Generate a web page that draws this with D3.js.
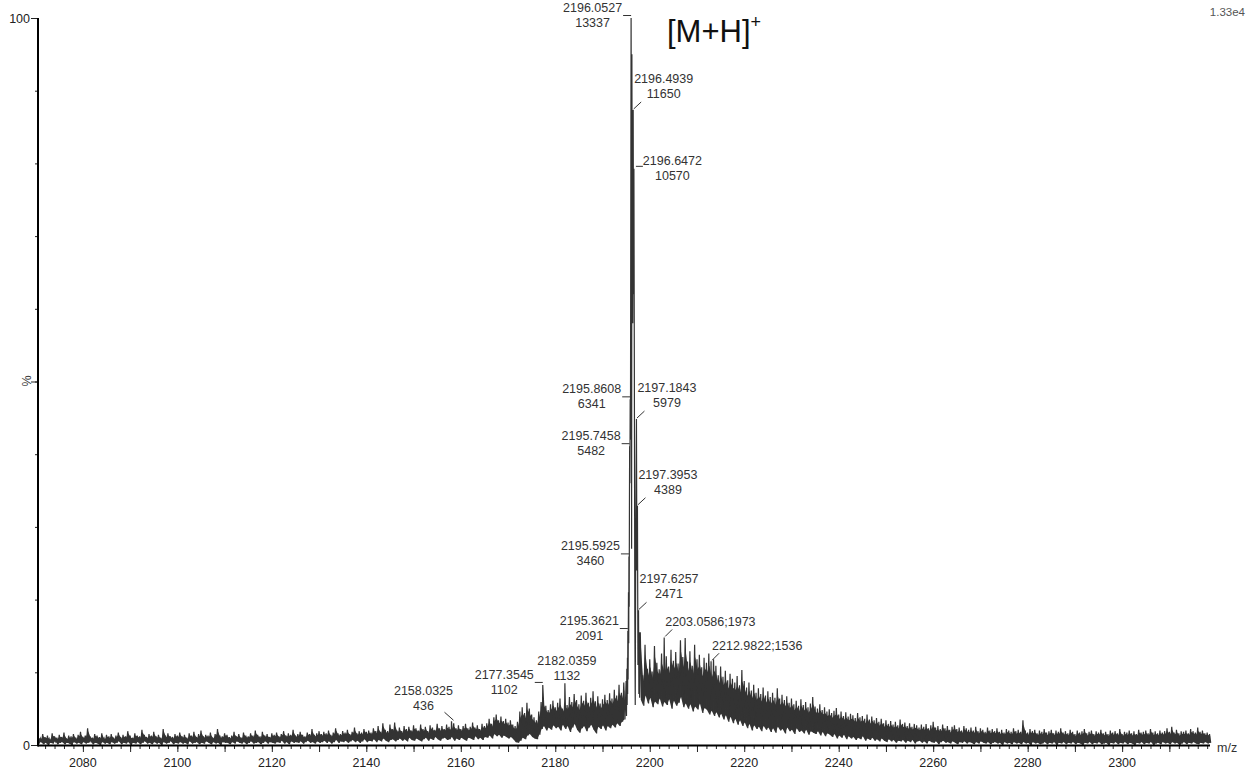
<!DOCTYPE html>
<html>
<head>
<meta charset="utf-8">
<script src="https://cdn.jsdelivr.net/npm/d3@7"></script>
<style>
  html, body { margin: 0; padding: 0; background: #fff; }
  svg { display: block; font-family: "Liberation Sans", Arial, sans-serif; }
</style>
</head>
<body>
<div id="chart"></div>
<script>
// base peak intensity (counts) = 100 %
const basePeak = 13337;

// labelled centroids
const peakMz = [2158.0325, 2177.3545, 2182.0359, 2195.3621, 2195.5925, 2195.7458, 2195.8608,
  2196.0527, 2196.4939, 2196.6472, 2197.1843, 2197.3953, 2197.6257, 2203.0586, 2212.9822];
const peakCounts = [436, 1102, 1132, 2091, 3460, 5482, 6341, 13337, 11650, 10570, 5979, 4389, 2471, 1973, 1536];
const peakLabelKind = ["upleft", "left", "above", "left", "left", "left", "left",
  "left", "slant", "flat", "slant", "slant", "slant", "inline", "inline"];

// profile points of the isotope cluster between the labelled centroids (m/z, %)
const clusterMz = [2195.00, 2195.08, 2195.15, 2195.22, 2195.28, 2195.32, 2195.42, 2195.50, 2195.55,
  2195.65, 2195.70, 2195.80, 2195.92, 2195.98, 2196.10, 2196.16, 2196.22, 2196.30, 2196.40, 2196.57,
  2196.74, 2196.84, 2196.93, 2197.05, 2197.28, 2197.50, 2197.70, 2197.78, 2197.86, 2197.93];
const clusterPct = [8.8, 4.0, 10.5, 5.5, 12.0, 7.0, 9.0, 21.0, 14.0,
  19.0, 33.0, 36.0, 42.0, 70.0, 84.0, 27.0, 95.0, 64.0, 58.0, 62.0,
  52.0, 18.0, 5.5, 30.0, 24.0, 11.0, 7.0, 15.5, 6.5, 13.0];

// background noise, read every 0.5 m/z: local maxima (hi) and the minima just after (lo), in %
const leftStart = 2070.5;
const leftHi = [
  1.2, 0.9, 1.5, 1.1, 1.3, 0.8, 1.6, 1.2, 1.0, 1.4,
  1.1, 1.7, 0.9, 1.3, 1.2, 1.5, 1.0, 1.4, 1.8, 1.1,
  1.3, 2.3, 1.2, 1.0, 1.5, 1.3, 1.1, 1.6, 0.9, 1.4,
  1.2, 1.5, 1.0, 1.3, 1.7, 1.1, 1.4, 1.2, 1.9, 1.3,
  1.0, 1.6, 1.3, 1.2, 2.1, 1.4, 1.1, 1.5, 1.3, 1.8,
  1.2, 1.4, 1.0, 2.2, 1.3, 1.6, 1.2, 1.1, 1.5, 1.3,
  1.7, 1.2, 1.4, 1.0, 1.6, 1.3, 1.8, 1.1, 1.5, 2.0,
  1.2, 1.4, 1.3, 1.7, 1.0, 1.5, 2.2, 1.3, 1.2, 1.6,
  1.4, 1.1, 1.3, 1.8, 1.2, 1.5, 1.0, 1.7, 1.3, 1.2,
  1.6, 1.3, 2.0, 1.4, 1.2, 1.8, 1.3, 1.5, 1.1, 1.6,
  1.4, 1.7, 1.2, 1.5, 1.9, 1.3, 1.6, 1.4, 2.1, 1.3,
  1.5, 1.8, 1.4, 1.2, 1.7, 1.5, 2.2, 1.4, 1.6, 1.9,
  1.5, 1.8, 1.6, 2.0, 1.4, 1.7, 2.3, 1.6, 1.5, 1.9,
  1.7, 2.1, 1.5, 1.8, 2.4, 1.6, 1.9, 1.7, 2.2, 1.8,
  2.0, 1.7, 2.3, 1.9, 2.6, 1.8, 3.0, 2.1, 1.9, 2.8,
  2.2, 3.1, 2.0, 2.4, 1.9, 2.6, 2.2, 2.5, 2.0, 2.7,
  2.3, 2.0, 2.8, 2.2, 2.5, 1.9, 2.7, 2.4, 2.1, 2.9,
  2.3, 2.6, 2.2, 2.8, 2.5, 2.4, 3.0, 2.3, 2.7, 2.2,
  2.6, 2.9, 2.3, 2.5, 3.1, 2.4, 2.7, 2.2, 2.9, 2.6,
  3.0, 3.6, 2.9, 3.8, 4.2, 3.4, 3.9, 3.3, 3.6, 3.1,
  3.4, 2.8, 2.6, 3.2, 4.6, 5.2, 4.4, 5.8, 5.0, 4.2,
  3.8, 3.4, 4.6, 5.9, 6.2, 5.4, 4.8, 5.6, 6.1, 5.2,
  5.8, 6.4, 5.0, 6.0, 5.5, 6.6, 5.9, 7.0, 6.2, 5.6,
  6.8, 6.1, 7.2, 5.8, 6.5, 7.4, 6.0, 6.7, 5.7, 6.3,
  6.9, 6.2, 7.1, 6.4, 7.6, 6.8, 8.3, 7.2, 8.6
];
const leftLo = [
  0.2, 0.4, 0.1, 0.3, 0.0, 0.3, 0.2, 0.5, 0.1, 0.3,
  0.4, 0.1, 0.3, 0.2, 0.0, 0.4, 0.2, 0.3, 0.1, 0.4,
  0.2, 0.3, 0.5, 0.1, 0.3, 0.2, 0.0, 0.4, 0.2, 0.3,
  0.1, 0.4, 0.2, 0.3, 0.5, 0.1, 0.3, 0.2, 0.4, 0.0,
  0.3, 0.2, 0.4, 0.1, 0.3, 0.5, 0.2, 0.3, 0.1, 0.4,
  0.2, 0.3, 0.0, 0.4, 0.2, 0.3, 0.5, 0.1, 0.3, 0.2,
  0.4, 0.2, 0.3, 0.1, 0.5, 0.2, 0.3, 0.4, 0.1, 0.3,
  0.2, 0.5, 0.3, 0.1, 0.4, 0.2, 0.3, 0.0, 0.4, 0.3,
  0.3, 0.1, 0.4, 0.2, 0.5, 0.3, 0.2, 0.4, 0.1, 0.3,
  0.5, 0.2, 0.3, 0.4, 0.1, 0.3, 0.5, 0.2, 0.4, 0.3,
  0.2, 0.4, 0.3, 0.6, 0.2, 0.4, 0.1, 0.5, 0.3, 0.4,
  0.3, 0.5, 0.2, 0.4, 0.6, 0.3, 0.4, 0.2, 0.5, 0.3,
  0.4, 0.6, 0.3, 0.5, 0.2, 0.4, 0.7, 0.3, 0.5, 0.4,
  0.6, 0.3, 0.5, 0.7, 0.4, 0.6, 0.3, 0.5, 0.8, 0.4,
  0.6, 0.5, 0.8, 0.4, 0.7, 0.5, 0.9, 0.6, 0.4, 0.7,
  0.8, 0.5, 0.7, 0.9, 0.6, 0.8, 0.5, 1.0, 0.7, 0.6,
  0.9, 0.7, 0.5, 0.8, 1.0, 0.6, 0.9, 0.7, 1.1, 0.8,
  0.6, 0.9, 1.0, 0.7, 0.8, 1.1, 0.6, 0.9, 0.7, 1.0,
  0.8, 0.6, 1.0, 0.9, 0.7, 1.2, 0.8, 1.0, 0.7, 1.1,
  1.0, 1.3, 0.9, 1.5, 1.2, 1.4, 1.0, 1.3, 1.1, 0.9,
  1.1, 0.8, 0.4, 0.3, 0.6, 1.0, 0.8, 1.3, 1.5, 1.1,
  0.9, 0.8, 1.4, 2.2, 2.6, 2.0, 2.4, 2.1, 2.7, 2.3,
  2.5, 2.0, 2.8, 2.2, 2.6, 1.8, 2.4, 2.9, 2.1, 1.7,
  2.3, 2.6, 1.9, 2.4, 2.8, 2.1, 1.6, 2.5, 2.2, 2.7,
  2.0, 2.6, 2.3, 2.8, 2.4, 3.0, 2.6, 3.2, 3.5
];
const rightStart = 2198.0;
const rightHi = [
  15.5, 9.6, 13.8, 10.5, 11.8, 10.1, 13.6, 11.3, 10.4, 12.6,
  11.0, 12.2, 10.8, 13.1, 11.6, 12.8, 11.2, 14.4, 12.1, 14.7,
  11.5, 12.9, 10.9, 13.8, 11.8, 12.4, 10.7, 12.0, 11.3, 12.6,
  10.4, 11.8, 10.9, 9.6, 10.8, 9.4, 10.2, 8.9, 9.8, 9.1,
  8.6, 9.5, 8.2, 10.3, 8.8, 7.9, 8.6, 7.5, 8.3, 7.2,
  7.8, 7.0, 7.9, 6.8, 7.4, 6.6, 7.2, 6.5, 7.8, 6.4,
  6.9, 6.2, 6.7, 5.8, 6.4, 5.6, 6.1, 5.4, 6.3, 5.5,
  5.9, 5.2, 5.7, 6.6, 5.3, 5.0, 5.6, 4.8, 5.2, 4.6,
  4.9, 4.4, 4.7, 5.1, 4.2, 4.6, 4.0, 4.5, 3.9, 4.3,
  4.1, 3.7, 4.4, 3.8, 4.0, 3.6, 4.2, 3.5, 3.9, 3.4,
  3.7, 3.2, 3.6, 3.0, 3.4, 2.9, 3.3, 2.8, 3.2, 2.7,
  3.5, 2.9, 3.1, 2.6, 3.0, 2.5, 2.9, 2.7, 2.4, 2.8,
  2.5, 2.9, 2.3, 2.7, 3.2, 2.4, 2.6, 2.2, 2.8, 2.3,
  2.6, 2.1, 2.5, 2.7, 2.2, 2.4, 2.0, 2.6, 2.3, 2.1,
  2.4, 2.0, 2.5, 1.9, 2.3, 2.1, 1.8, 2.4, 2.0, 2.2,
  1.9, 2.3, 1.8, 2.1, 1.7, 2.2, 2.0, 1.8, 2.3, 1.9,
  2.1, 1.8, 3.4, 2.0, 1.7, 2.2, 1.9, 2.1, 1.6, 2.0,
  1.8, 2.2, 1.7, 1.9, 2.1, 1.6, 2.0, 1.8, 2.3, 1.7,
  1.9, 1.6, 2.1, 1.8, 1.5, 2.0, 1.7, 1.9, 2.2, 1.6,
  1.8, 2.0, 1.5, 1.9, 1.7, 2.1, 1.6, 1.8, 1.5, 2.0,
  1.7, 1.9, 1.6, 2.2, 1.5, 1.8, 1.7, 2.0, 1.6, 1.9,
  1.5, 2.1, 1.7, 1.8, 2.0, 1.6, 2.2, 1.7, 1.9, 1.6,
  2.0, 1.7, 1.9, 2.3, 1.8, 2.5, 1.7, 2.1, 1.6, 1.9,
  1.8, 2.0, 1.6, 2.2, 1.9, 1.7, 2.4, 1.8, 2.0, 1.6,
  1.7, 1.5
];
const rightLo = [
  6.2, 5.4, 6.8, 5.7, 6.5, 5.2, 6.0, 5.6, 6.4, 5.3,
  5.9, 5.5, 6.3, 5.0, 6.1, 5.4, 5.8, 6.6, 5.2, 5.7,
  5.0, 5.6, 4.6, 5.3, 4.9, 5.7, 4.4, 5.1, 4.8, 4.2,
  4.7, 4.0, 4.5, 3.8, 4.3, 3.5, 4.1, 3.2, 3.9, 3.0,
  3.6, 2.8, 3.4, 2.6, 3.1, 2.3, 2.9, 2.0, 2.7, 2.2,
  2.5, 1.9, 2.6, 2.1, 2.4, 1.8, 2.3, 1.7, 2.5, 2.0,
  2.2, 1.6, 2.4, 1.9, 2.1, 1.5, 2.3, 1.8, 2.0, 1.6,
  2.1, 1.4, 1.9, 1.7, 1.5, 1.9, 1.3, 1.8, 1.2, 1.6,
  1.4, 1.1, 1.5, 0.9, 1.3, 1.0, 1.4, 0.8, 1.2, 0.9,
  1.1, 0.7, 1.0, 0.8, 1.2, 0.6, 0.9, 0.7, 1.0, 0.6,
  0.8, 0.5, 0.9, 0.6, 0.4, 0.8, 0.5, 0.7, 0.3, 0.6,
  0.5, 0.7, 0.3, 0.6, 0.4, 0.7, 0.2, 0.5, 0.6, 0.3,
  0.5, 0.2, 0.6, 0.4, 0.3, 0.5, 0.1, 0.4, 0.6, 0.3,
  0.4, 0.2, 0.5, 0.3, 0.1, 0.4, 0.3, 0.5, 0.2, 0.4,
  0.3, 0.1, 0.4, 0.2, 0.5, 0.3, 0.2, 0.4, 0.1, 0.3,
  0.4, 0.2, 0.3, 0.0, 0.4, 0.2, 0.3, 0.1, 0.4, 0.2,
  0.3, 0.1, 0.4, 0.2, 0.3, 0.0, 0.4, 0.2, 0.3, 0.1,
  0.2, 0.4, 0.1, 0.3, 0.2, 0.4, 0.0, 0.3, 0.2, 0.4,
  0.1, 0.3, 0.2, 0.4, 0.1, 0.3, 0.2, 0.0, 0.3, 0.2,
  0.4, 0.1, 0.3, 0.2, 0.4, 0.1, 0.2, 0.3, 0.0, 0.3,
  0.2, 0.4, 0.1, 0.3, 0.2, 0.4, 0.1, 0.3, 0.2, 0.0,
  0.3, 0.2, 0.4, 0.1, 0.3, 0.2, 0.4, 0.0, 0.2, 0.3,
  0.1, 0.4, 0.2, 0.3, 0.1, 0.4, 0.2, 0.3, 0.0, 0.2,
  0.4, 0.1, 0.3, 0.2, 0.4, 0.2, 0.1, 0.3, 0.2, 0.4,
  0.2, 0.3
];

const xTickLabels = [2080, 2100, 2120, 2140, 2160, 2180, 2200, 2220, 2240, 2260, 2280, 2300];
const yTickLabels = [0, 100];
const yMajorTicks = [0, 50, 100];

const width = 1251, height = 776;
const ink = "#333";
const fontSize = 12.5;

const svg = d3.select("#chart").append("svg")
  .attr("width", width)
  .attr("height", height);

const x = d3.scaleLinear().domain([2070.5, 2318.6]).range([38, 1210]);
const y = d3.scaleLinear().domain([0, 100]).range([745, 18]);

// noise bins (m/z, lo, hi) for the band fill
function bins(start, hi, lo) {
  return hi.map((v, i) => ({ m: start + i * 0.5, hi: v, lo: lo[i] }));
}
const leftBins = bins(leftStart, leftHi, leftLo);
const rightBins = bins(rightStart, rightHi, rightLo);

// assemble the profile: noise zigzag + cluster + labelled maxima, ordered by m/z
let profile = [];
leftBins.concat(rightBins).forEach(b => {
  profile.push([b.m, b.hi], [b.m + 0.25, b.lo]);
});
clusterMz.forEach((m, i) => profile.push([m, clusterPct[i]]));
peakMz.forEach((m, i) => profile.push([m, peakCounts[i] / basePeak * 100]));
profile.sort((a, b) => a[0] - b[0]);

const band = d3.area()
  .x(d => x(d.m + 0.125))
  .y0(d => y(d.lo))
  .y1(d => y(d.hi * 0.8 + d.lo * 0.2));

[leftBins, rightBins].forEach(bs => {
  svg.append("path")
    .datum(bs)
    .attr("d", band)
    .attr("fill", "#353535");
});

const line = d3.line()
  .x(d => x(d[0]))
  .y(d => y(d[1]));

svg.append("path")
  .datum(profile)
  .attr("d", line)
  .attr("fill", "none")
  .attr("stroke", "#333")
  .attr("stroke-width", 1.2);

// x axis: minor every 2, major every 10, labels every 20
const xAxisG = svg.append("g").attr("transform", "translate(0,745)");
xAxisG.append("g")
  .call(d3.axisBottom(x).ticks(120).tickSize(4).tickSizeOuter(0).tickFormat(""));
xAxisG.append("g")
  .call(d3.axisBottom(x).ticks(25).tickSize(7).tickSizeOuter(0).tickFormat(""));
xAxisG.selectAll(".domain").remove();
xAxisG.selectAll(".tick line").attr("stroke", "#222");

svg.append("g")
  .selectAll("text")
  .data(xTickLabels)
  .enter()
  .append("text")
  .attr("x", d => x(d))
  .attr("y", 767)
  .attr("text-anchor", "middle")
  .attr("font-size", fontSize)
  .attr("fill", "#222")
  .text(d => d);

// y axis
const yAxisG = svg.append("g").attr("transform", "translate(38,0)");
yAxisG.append("g")
  .call(d3.axisLeft(y).ticks(10).tickSize(3).tickSizeOuter(0).tickFormat(""));
yAxisG.append("g")
  .call(d3.axisLeft(y).tickValues(yMajorTicks).tickSize(7).tickSizeOuter(0).tickFormat(""));
yAxisG.selectAll(".domain").remove();
yAxisG.selectAll(".tick line").attr("stroke", "#222");

svg.append("g")
  .selectAll("text")
  .data(yTickLabels)
  .enter()
  .append("text")
  .attr("x", 30)
  .attr("y", d => y(d) + 4.5)
  .attr("text-anchor", "end")
  .attr("font-size", fontSize)
  .attr("fill", "#222")
  .text(d => d);

// axis lines
svg.append("line")
  .attr("x1", x.range()[0]).attr("x2", x.range()[1])
  .attr("y1", 745.5).attr("y2", 745.5)
  .attr("stroke", "#000").attr("stroke-width", 2);
svg.append("line")
  .attr("x1", 38).attr("x2", 38)
  .attr("y1", y(100)).attr("y2", 746.5)
  .attr("stroke", "#000").attr("stroke-width", 2);

svg.append("text")
  .attr("transform", "translate(31,381) rotate(-90)")
  .attr("text-anchor", "middle")
  .attr("font-size", fontSize)
  .attr("fill", "#333")
  .text("%");

svg.append("text")
  .attr("x", 1217)
  .attr("y", 752)
  .attr("font-size", fontSize)
  .attr("fill", "#333")
  .text("m/z");

svg.append("text")
  .attr("x", 1245)
  .attr("y", 16)
  .attr("text-anchor", "end")
  .attr("font-size", 11.5)
  .attr("fill", "#555")
  .text("1.33e4");

const ion = svg.append("text")
  .attr("x", 667)
  .attr("y", 42)
  .attr("font-size", 31)
  .attr("fill", "#111")
  .text("[M+H]");
ion.append("tspan")
  .attr("dy", -14)
  .attr("font-size", 18)
  .text("+");

// peak annotations
const labels = svg.append("g")
  .attr("font-size", fontSize)
  .attr("fill", ink);

function leader(x1, y1, x2, y2) {
  svg.append("line")
    .attr("x1", x1).attr("y1", y1).attr("x2", x2).attr("y2", y2)
    .attr("stroke", ink).attr("stroke-width", 1);
}

function twoLines(cx, y1, a, b) {
  labels.append("text").attr("x", cx).attr("y", y1).attr("text-anchor", "middle").text(a);
  labels.append("text").attr("x", cx).attr("y", y1 + 15).attr("text-anchor", "middle").text(b);
}

peakMz.forEach((m, i) => {
  const px = x(m), py = y(peakCounts[i] / basePeak * 100);
  const mzText = m.toFixed(4), cText = String(peakCounts[i]);
  const half = 29.5; // half width of a 9-character m/z label
  switch (peakLabelKind[i]) {
    case "left":
      leader(px - 8, py - 2.5, px, py - 2.5);
      twoLines(px - 9 - half, py - 6, mzText, cText);
      break;
    case "slant":
      leader(px + 0.5, py - 1, px + 8, py - 8);
      twoLines(px + 1 + half, py - 27, mzText, cText);
      break;
    case "flat":
      leader(px + 2, py - 2.5, px + 9, py - 2.5);
      twoLines(px + 9 + half, py - 4, mzText, cText);
      break;
    case "above":
      twoLines(px + 2, py - 18.5, mzText, cText);
      break;
    case "upleft":
      leader(px + 2, py - 1, px - 7, py - 9);
      twoLines(px - 28, py - 26.5, mzText, cText);
      break;
    case "inline":
      leader(px + 1, py - 1, px + 8, py - 8);
      labels.append("text").attr("x", px + 1).attr("y", py - 11.5).text(mzText + ";" + cText);
      break;
  }
});
</script>
</body>
</html>
